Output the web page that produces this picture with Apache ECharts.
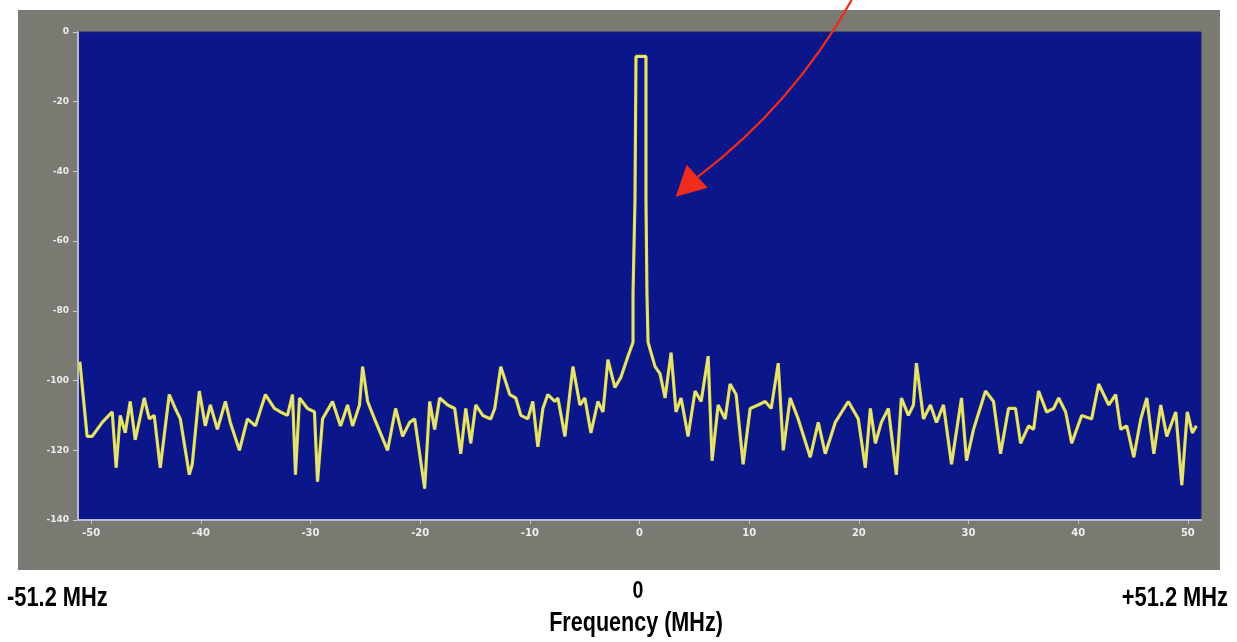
<!DOCTYPE html>
<html>
<head>
<meta charset="utf-8">
<script src="https://cdn.jsdelivr.net/npm/echarts@6/dist/echarts.min.js"></script>
<style>
	html, body { margin: 0; padding: 0; background: #ffffff; }
	#frame { position: absolute; left: 18px; top: 10px; width: 1202px; height: 560px; background: #7a7972; }
	#chart { position: absolute; left: 0; top: 0; width: 1237px; height: 642px; }
</style>
</head>
<body>
<div id="frame"></div>
<div id="chart"></div>
<script>
// spectrum trace (MHz / dB)
const freqMHz = [
	-51.03,-50.37,-49.91,-48.99,-48.08,-47.72,-47.35,-46.89,-46.44,-45.98,
	-45.16,-44.70,-44.25,-43.70,-42.88,-42.33,-41.87,-41.05,-40.78,-40.14,
	-39.59,-39.13,-38.49,-37.76,-37.31,-36.48,-35.75,-35.02,-34.11,-33.29,
	-32.74,-32.10,-31.64,-31.37,-31.00,-30.27,-29.64,-29.36,-28.90,-27.99,
	-27.26,-26.62,-26.16,-25.53,
	-25.25,-24.79,-24.16,-22.97,-22.24,-21.60,-20.96,-20.50,-19.59,-19.13,
	-18.68,-18.22,-17.49,-16.85,-16.30,-15.84,-15.39,-14.93,-14.29,-13.56,
	-13.20,-12.65,-11.83,-11.28,-10.82,-10.18,-9.73,-9.27,-8.81,-8.36,
	-7.72,-7.44,-6.80,-6.07,-5.43,-4.98,-4.43,-3.79,-3.33,-2.88,
	-2.24,-1.69,-1.05,-0.59,
	-0.59,-0.41,-0.41,-0.32,-0.32,0.59,0.59,0.68,0.68,0.78,0.78,
	1.42,1.87,2.33,2.88,3.33,3.79,4.43,5.07,5.62,6.26,
	6.62,7.17,7.81,8.26,8.81,9.45,10.09,10.82,11.46,12.01,
	12.65,13.11,13.74,14.47,15.57,16.30,16.94,17.85,19.04,19.95,
	20.59,21.05,21.51,22.05,22.69,23.42,23.88,24.52,24.98,25.25,
	25.62,
	25.89,26.53,27.08,27.72,28.45,29.36,29.82,30.46,31.55,32.28,
	32.92,33.65,34.29,34.75,35.48,35.94,36.39,37.12,37.76,38.22,
	38.86,39.41,40.32,41.23,41.87,42.79,43.42,43.88,44.43,45.07,
	45.71,46.26,46.90,47.53,48.08,48.90,49.45,49.95,50.41,50.78
];
const levelDb = [
	-94.6,-116,-116,-112,-109,-125,-110,-115,-106,-117,
	-105,-111,-110,-125,-104,-108,-111,-127,-124,-103,
	-113,-107,-114,-106,-112,-120,-111,-113,-104,-108,
	-109,-110,-104,-127,-105,-108,-109,-129,-111,-106,
	-113,-107,-113,-107,
	-96,-106,-111,-120,-108,-116,-112,-111,-131,-106,
	-114,-105,-107,-108,-121,-108,-118,-107,-110,-111,
	-108,-96,-104,-105,-110,-111,-106,-119,-108,-104,
	-106,-105,-116,-96,-107,-105,-115,-106,-109,-94,
	-102,-99,-93,-89,
	-75,-75,-48,-48,-7,-7,-48,-48,-75,-75,-89,
	-96,-98,-105,-92,-109,-105,-116,-103,-106,-93,
	-123,-107,-111,-101,-104,-124,-108,-107,-106,-108,
	-95,-120,-105,-111,-122,-112,-121,-112,-106,-111,
	-125,-108,-118,-112,-108,-127,-105,-110,-107,-95,
	-104,
	-111,-107,-112,-107,-124,-105,-123,-114,-103,-106,
	-121,-108,-108,-118,-113,-114,-103,-109,-108,-105,
	-109,-118,-110,-111,-101,-107,-104,-114,-113,-122,
	-111,-105,-121,-107,-116,-109,-130,-109,-115,-113
];
const xTicks = [-50, -40, -30, -20, -10, 0, 10, 20, 30, 40, 50];
const yTicks = [0, -20, -40, -60, -80, -100, -120, -140];
const spanLabels = ["-51.2 MHz", "0", "+51.2 MHz"];
const axisTitle = "Frequency (MHz)";

const trace = freqMHz.map((f, i) => [f, levelDb[i]]);
const bigFont = "bold 28px 'Liberation Sans', Arial, sans-serif";

const myChart = echarts.init(document.getElementById("chart"));
const option = {
	backgroundColor: "transparent",
	animation: false,
	grid: {
		left: 78,
		right: 36,
		top: 32,
		bottom: 122,
		show: true,
		backgroundColor: "#0a1689",
		borderColor: "#1b2470",
		borderWidth: 1
	},
	xAxis: {
		type: "value",
		min: -51.2,
		max: 51.2,
		axisLine: { show: true, onZero: false, lineStyle: { color: "#b9b9d2", width: 2 } },
		axisTick: { show: true, customValues: xTicks, length: 4, lineStyle: { color: "#c8c8d8" } },
		axisLabel: {
			customValues: xTicks,
			margin: 8,
			color: "#eeeeee",
			fontSize: 10,
			fontWeight: "bold",
			fontFamily: "'DejaVu Sans', sans-serif"
		},
		splitLine: { show: false }
	},
	yAxis: {
		type: "value",
		min: -140,
		max: 0,
		interval: 20,
		axisLine: { show: true, onZero: false, lineStyle: { color: "#b9b9d2", width: 2 } },
		axisTick: { show: true, customValues: yTicks, length: 5, lineStyle: { color: "#c8c8d8" } },
		axisLabel: {
			customValues: yTicks,
			margin: 9,
			color: "#eeeeee",
			fontSize: 9,
			fontWeight: "bold",
			fontFamily: "'DejaVu Sans', sans-serif"
		},
		splitLine: { show: false }
	},
	series: [
		{
			// yellow trace
			type: "line",
			data: trace,
			showSymbol: false,
			lineStyle: { color: "#e4df2c", width: 3.2 },
			z: 2
		},
		{
			// pale core of the trace
			type: "line",
			data: trace,
			showSymbol: false,
			lineStyle: { color: "#e2e2c2", width: 1.1 },
			z: 3
		}
	],
	graphic: [
		{ id: "lblLeft", type: "text", x: 7, y: 612, scaleX: 0.78, style: { text: spanLabels[0], font: bigFont, fill: "#000", textAlign: "left", textVerticalAlign: "bottom" } },
		{ id: "lblMid", type: "text", x: 638, y: 603, scaleX: 0.85, style: { text: spanLabels[1], font: "bold 23px 'Liberation Sans', Arial, sans-serif", fill: "#000", textAlign: "center", textVerticalAlign: "bottom" } },
		{ id: "lblRight", type: "text", x: 1228, y: 612, scaleX: 0.78, style: { text: spanLabels[2], font: bigFont, fill: "#000", textAlign: "right", textVerticalAlign: "bottom" } },
		{ id: "lblTitle", type: "text", x: 636, y: 637, scaleX: 0.77, style: { text: axisTitle, font: bigFont, fill: "#000", textAlign: "center", textVerticalAlign: "bottom" } }
	]
};
myChart.setOption(option);

// red annotation arrow pointing at the carrier
const tip = myChart.convertToPixel({ gridIndex: 0 }, [3.3, -47.3]);
const tx = tip[0], ty = tip[1];
myChart.setOption({
	graphic: [
		{
			id: "arrowLine",
			type: "bezierCurve",
			shape: { x1: tx + 176, y1: ty - 197, x2: tx + 22, y2: ty - 20, cpx1: tx + 117, cpy1: ty - 92 },
			style: { stroke: "#ee2c1c", lineWidth: 2.2, fill: null },
			z: 10
		},
		{
			id: "arrowHead",
			type: "polygon",
			shape: { points: [[tx, ty], [tx + 11, ty - 32], [tx + 32, ty - 9]] },
			style: { fill: "#ee2c1c" },
			z: 10
		}
	]
});
</script>
</body>
</html>
